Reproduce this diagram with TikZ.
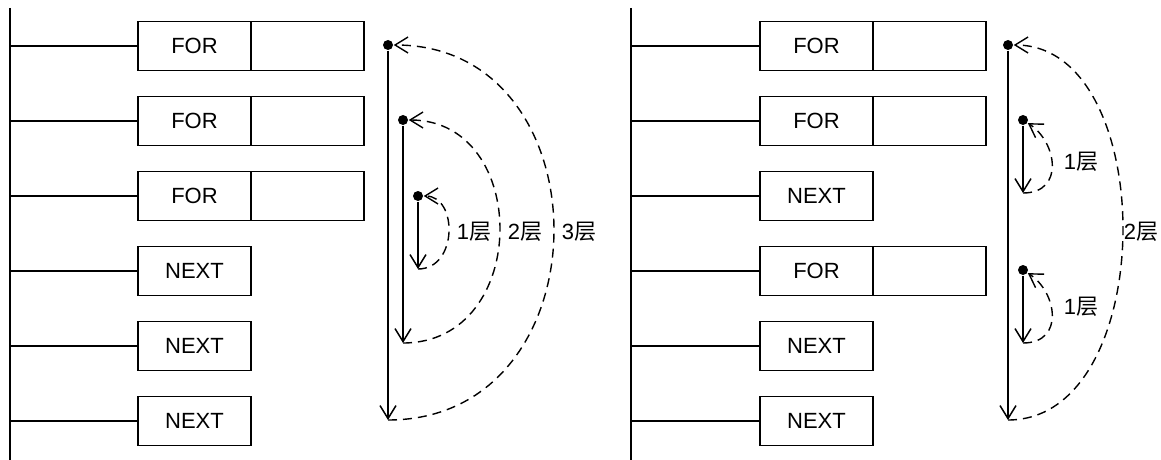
\documentclass[tikz,border=0pt]{standalone}
\usepackage{fontspec}
\setmainfont{Liberation Sans}
\newfontfamily\cjk{Noto Sans CJK SC}
\usetikzlibrary{arrows.meta,positioning}

\tikzset{
  cell/.style={draw, line width=0.7pt, outer sep=0pt, inner sep=0pt,
    minimum width=56.5pt, minimum height=24.5pt, font=\fontsize{11}{13}\selectfont},
  dot/.style={circle, fill, inner sep=0pt, minimum size=5pt},
  nest/.style={dashed, dash pattern=on 4.5pt off 3pt, line width=0.7pt},
  tag/.style={inner sep=1pt, font=\fontsize{11}{13}\selectfont}
}

\begin{document}
\begin{tikzpicture}[x=0.5pt, y=-0.5pt, line width=0.75pt,
    >={Straight Barb[length=6.5pt,width=8pt]}]
\useasboundingbox (0,0) rectangle (1161,460);

% left ladder: three nested loops
\coordinate (railL) at (10,8);
\draw (railL) -- (10,460);
\node[cell] (a1) at (194.5,46) {FOR};
\node[cell, right=0pt of a1] (a1x) {};
\node[cell] (a2) at (194.5,121) {FOR};
\node[cell, right=0pt of a2] (a2x) {};
\node[cell] (a3) at (194.5,196) {FOR};
\node[cell, right=0pt of a3] (a3x) {};
\node[cell] (a4) at (194.5,271) {NEXT};
\node[cell] (a5) at (194.5,346) {NEXT};
\node[cell] (a6) at (194.5,421) {NEXT};
\foreach \n in {1,...,6}
  \draw (a\n.west -| railL) -- (a\n.west);

% left nesting arcs
\node[dot] (p3) at (388,45) {};
\coordinate (q3) at (388,420);
\node[dot] (p2) at (403,120) {};
\coordinate (q2) at (403,343);
\node[dot] (p1) at (418,196) {};
\coordinate (q1) at (418,269);
\draw[->] (p3) -- (q3);
\draw[->] (p2) -- (q2);
\draw[->] (p1) -- (q1);
\draw[nest, ->] (q3) .. controls +(220,0) and +(220,0) .. (p3);
\draw[nest, ->] (q2) .. controls +(128,0) and +(128,0) .. (p2);
\draw[nest, ->] (q1) .. controls +(40,0) and +(40,0) .. (p1);
\node[tag] (n1) at (474,232) {1{\cjk 层}};
\node[tag] (n2) at (525,232) {2{\cjk 层}};
\node[tag] (n3) at (579,232) {3{\cjk 层}};

% right ladder: two loops inside one
\coordinate (railR) at (631,8);
\draw (railR) -- (631,460);
\node[cell] (b1) at (816.5,46) {FOR};
\node[cell, right=0pt of b1] (b1x) {};
\node[cell] (b2) at (816.5,121) {FOR};
\node[cell, right=0pt of b2] (b2x) {};
\node[cell] (b3) at (816.5,196) {NEXT};
\node[cell] (b4) at (816.5,271) {FOR};
\node[cell, right=0pt of b4] (b4x) {};
\node[cell] (b5) at (816.5,346) {NEXT};
\node[cell] (b6) at (816.5,421) {NEXT};
\foreach \n in {1,...,6}
  \draw (b\n.west -| railR) -- (b\n.west);

% right nesting arcs
\node[dot] (r0) at (1008,45) {};
\coordinate (s0) at (1008,420);
\node[dot] (r1) at (1023,120) {};
\coordinate (s1) at (1023,193);
\node[dot] (r2) at (1023,270) {};
\coordinate (s2) at (1023,343);
\draw[->] (r0) -- (s0);
\draw[->] (r1) -- (s1);
\draw[->] (r2) -- (s2);
\draw[nest, ->] (s0) .. controls +(152,0) and +(152,0) .. (r0);
\draw[nest, ->] (s1) .. controls +(42,0) and +(34,22) .. (r1);
\draw[nest, ->] (s2) .. controls +(42,0) and +(34,22) .. (r2);
\node[tag] (m1) at (1081,162) {1{\cjk 层}};
\node[tag] (m2) at (1081,307) {1{\cjk 层}};
\node[tag] (m0) at (1141,232) {2{\cjk 层}};
\end{tikzpicture}
\end{document}
